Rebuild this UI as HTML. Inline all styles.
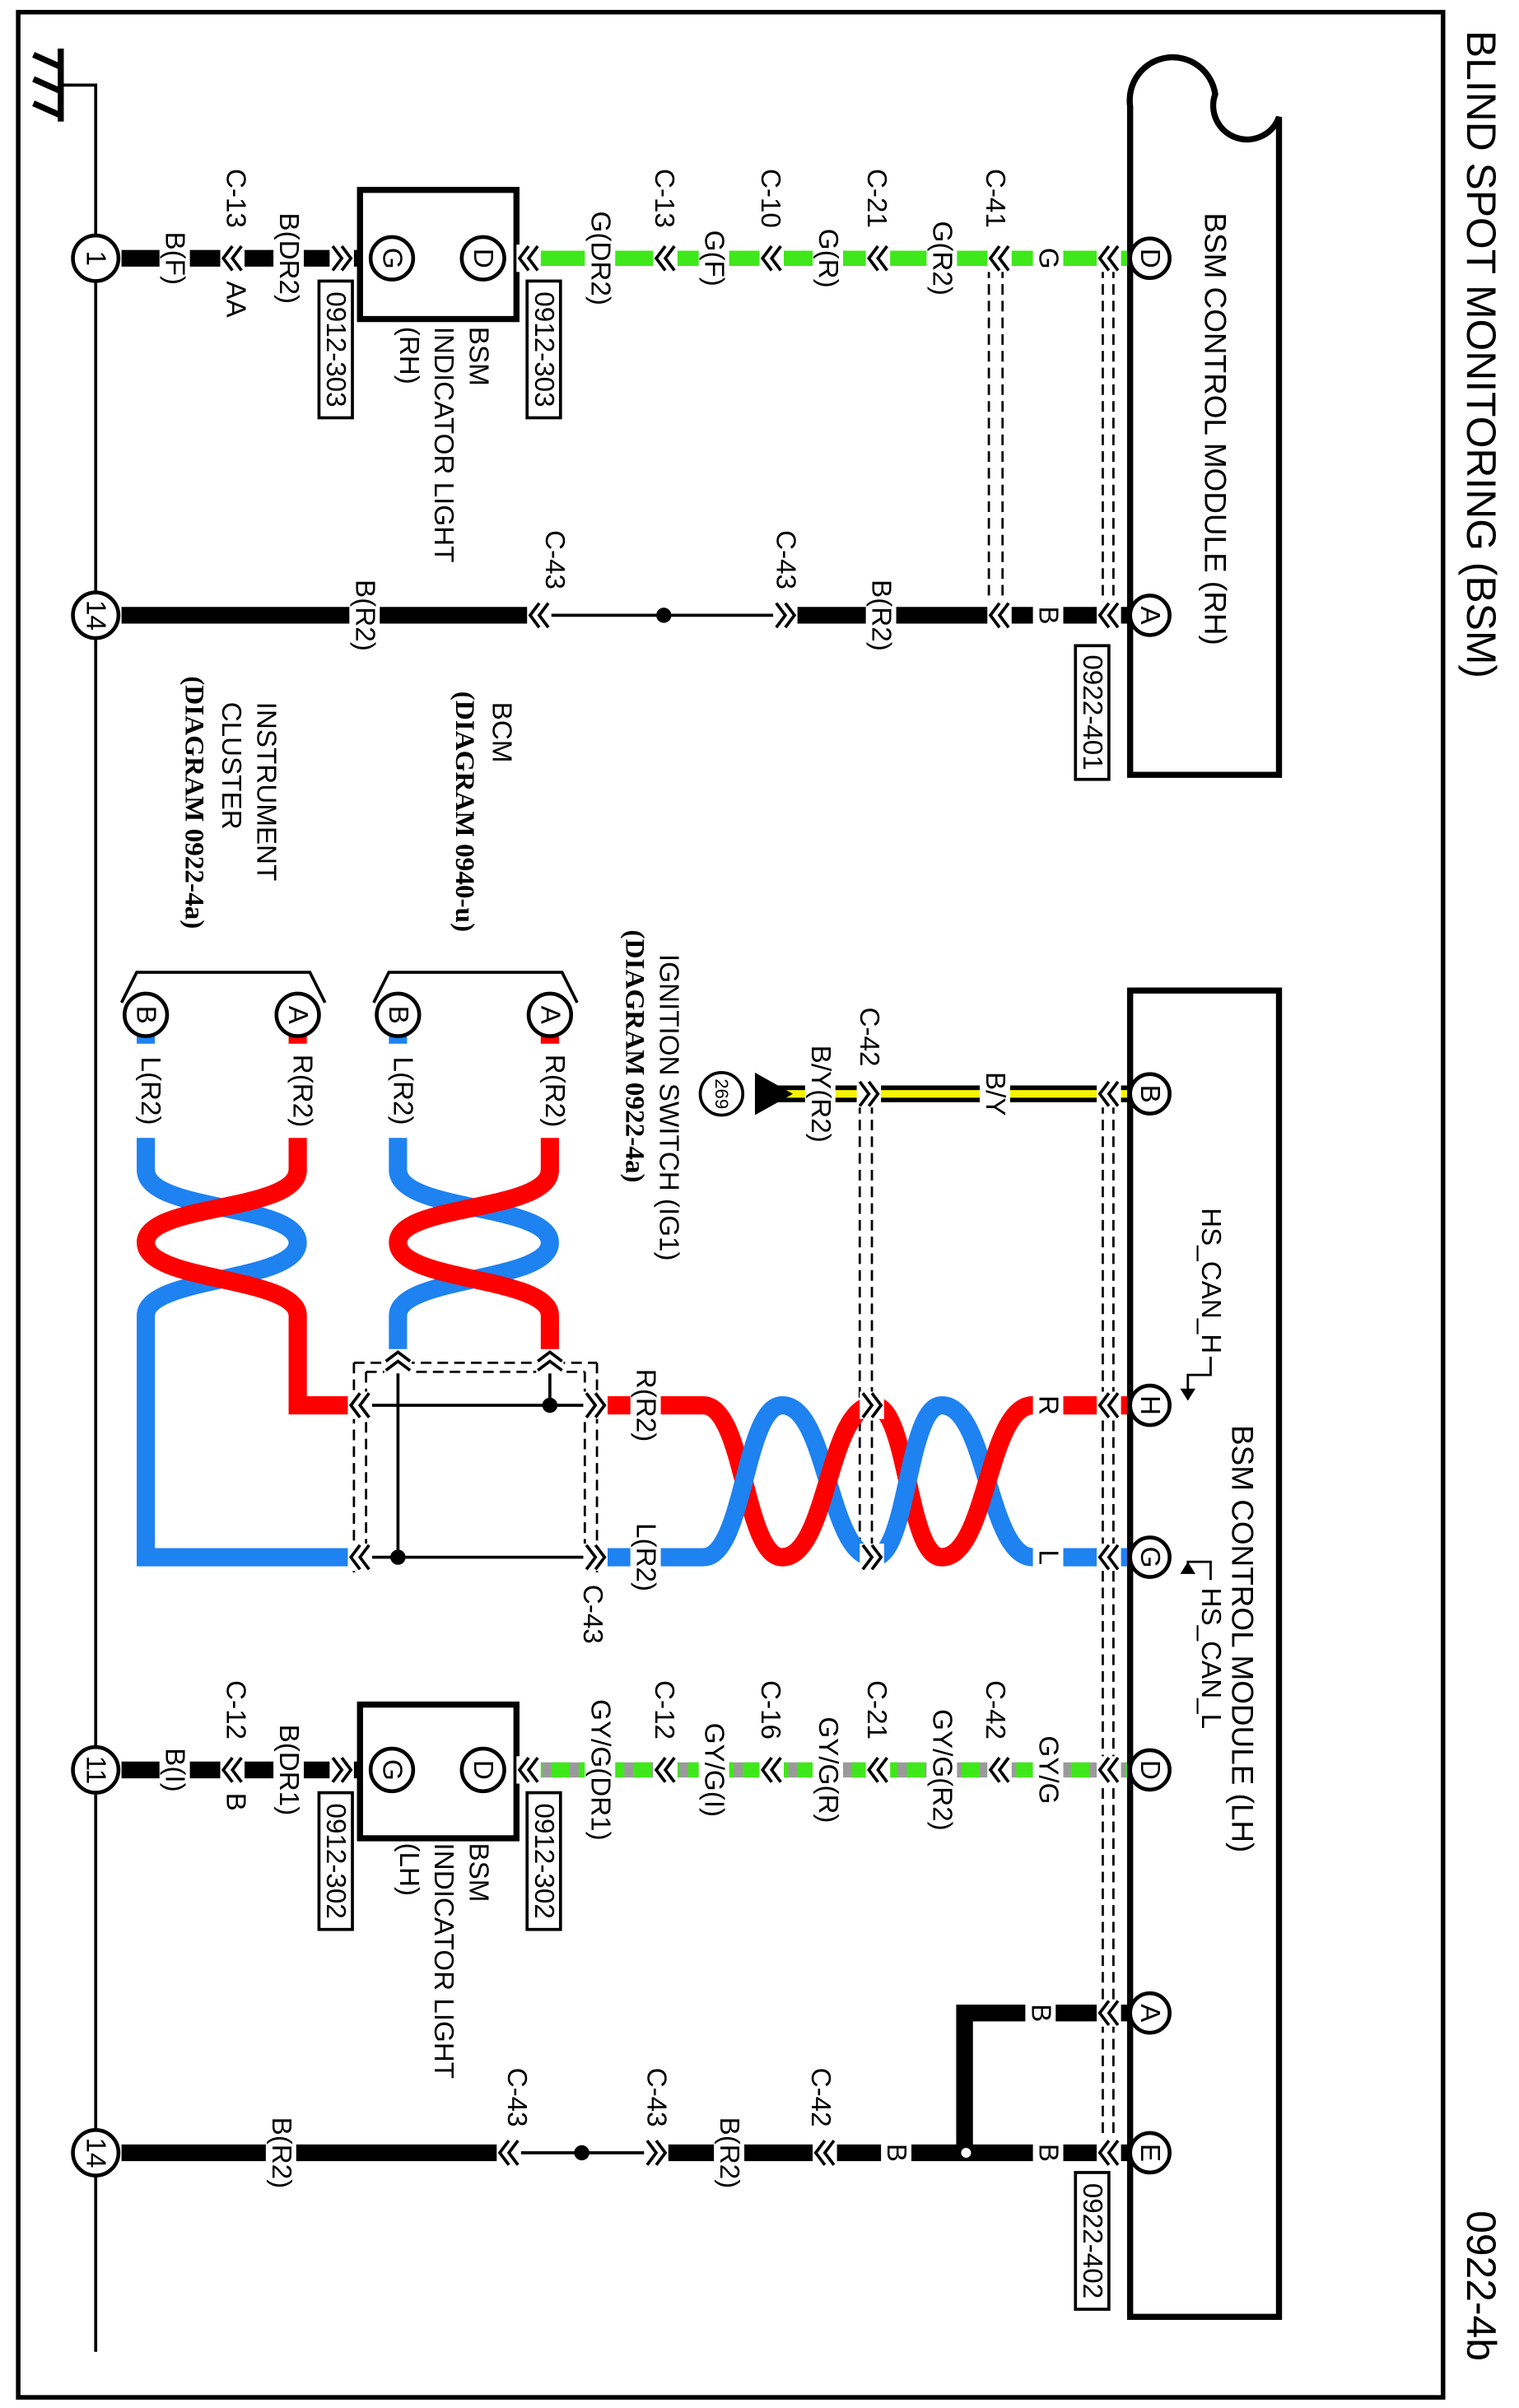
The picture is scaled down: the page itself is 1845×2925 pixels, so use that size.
<!DOCTYPE html>
<html><head><meta charset="utf-8"><style>
html,body{margin:0;padding:0;background:#fff;}
svg{display:block;}
text{font-family:"Liberation Sans",sans-serif;font-size:18px;fill:#000;}
.s{font-family:"Liberation Serif",serif;font-weight:bold;}
.m{font-size:20px;}
</style></head><body>
<svg width="1845" height="2925" viewBox="0 0 1000 1585" preserveAspectRatio="none" xmlns="http://www.w3.org/2000/svg">
<defs>
<g id="ch"><rect x="-5" y="-9" width="16" height="18" fill="#fff"/><polyline points="3,-8 -3,0 3,8" fill="none" stroke="#000" stroke-width="2"/><polyline points="9,-8 3,0 9,8" fill="none" stroke="#000" stroke-width="2"/></g>
<g id="chR"><rect x="-11" y="-9" width="16" height="18" fill="#fff"/><polyline points="-3,-8 3,0 -3,8" fill="none" stroke="#000" stroke-width="2"/><polyline points="-9,-8 -3,0 -9,8" fill="none" stroke="#000" stroke-width="2"/></g>
</defs>
<rect x="0" y="0" width="1000" height="1585" fill="#fff"/>
<rect x="12" y="8" width="938" height="1570" fill="none" stroke="#000" stroke-width="3"/>
<text transform="translate(975,20) rotate(90)" dominant-baseline="central" style="font-size:27px">BLIND SPOT MONITORING (BSM)</text>
<text transform="translate(975,1455) rotate(90)" dominant-baseline="central" style="font-size:27px">0922-4b</text>

<line x1="63" y1="55" x2="63" y2="1548" stroke="#000" stroke-width="2"/>
<line x1="63" y1="56" x2="40" y2="56" stroke="#000" stroke-width="2"/>
<line x1="40" y1="32" x2="40" y2="80" stroke="#000" stroke-width="4"/>
<line x1="22" y1="36" x2="40" y2="44" stroke="#000" stroke-width="4"/>
<line x1="22" y1="52" x2="40" y2="60" stroke="#000" stroke-width="4"/>
<line x1="22" y1="68" x2="40" y2="76" stroke="#000" stroke-width="4"/>

<path d="M744,510 L744,70 A28,28 0 0 1 800,62 A22,22 0 0 0 842,77 L842,510 Z" fill="none" stroke="#000" stroke-width="4"/>
<text class="m" transform="translate(800,140) rotate(90)" dominant-baseline="central">BSM CONTROL MODULE (RH)</text>
<g stroke="#000" stroke-width="1.5" stroke-dasharray="7,4" fill="none">
<line x1="651" y1="176" x2="651" y2="400"/><line x1="660" y1="176" x2="660" y2="400"/>
<line x1="726" y1="176" x2="726" y2="400"/><line x1="733" y1="176" x2="733" y2="400"/>
</g>
<line x1="345" y1="170" x2="742" y2="170" stroke="#3fe81a" stroke-width="10"/>
<line x1="80" y1="170" x2="237" y2="170" stroke="#000" stroke-width="11"/>
<line x1="80" y1="405" x2="355" y2="405" stroke="#000" stroke-width="11"/>
<line x1="355" y1="405" x2="515" y2="405" stroke="#000" stroke-width="2"/>
<line x1="515" y1="405" x2="742" y2="405" stroke="#000" stroke-width="11"/>
<circle cx="437" cy="405" r="5" fill="#000"/>

<rect x="744" y="652" width="98" height="873" fill="none" stroke="#000" stroke-width="4"/>
<text class="m" transform="translate(818,938) rotate(90)" dominant-baseline="central">BSM CONTROL MODULE (LH)</text>
<g stroke="#000" stroke-width="1.5" stroke-dasharray="7,4" fill="none">
<line x1="566" y1="726" x2="566" y2="1020"/><line x1="574" y1="726" x2="574" y2="1020"/>
<line x1="726" y1="726" x2="726" y2="1412"/><line x1="733" y1="726" x2="733" y2="1412"/>
</g>
<line x1="512" y1="720" x2="742" y2="720" stroke="#000" stroke-width="11"/>
<line x1="512" y1="720" x2="742" y2="720" stroke="#f5f500" stroke-width="5"/>
<polygon points="497,706 497,734 522,720" fill="#000"/>
<circle cx="475" cy="720" r="14" fill="#fff" stroke="#000" stroke-width="2"/>
<text transform="translate(475,720) rotate(90)" dominant-baseline="central" text-anchor="middle" style="font-size:12px">269</text>
<text transform="translate(440,628) rotate(90)" dominant-baseline="central">IGNITION SWITCH (IG1)</text>
<text class="s" transform="translate(418,612) rotate(90)" dominant-baseline="central">(DIAGRAM 0922-4a)</text>

<path d="M742,925 L680,925 C650,925 650,1025 620,1025 C597,1025 598,925 575,925 C545,925 545,1025 515,1025 C490,1025 490,925 463,925 L392,925" fill="none" stroke="#ff0000" stroke-width="12"/>
<path d="M742,1025 L680,1025 C650,1025 650,925 620,925 C597,925 598,1025 575,1025 C545,1025 545,925 515,925 C490,925 490,1025 463,1025 L392,1025" fill="none" stroke="#1e82f0" stroke-width="12"/>
<path d="M742,925 L680,925 C650,925 650,1025 620,1025" fill="none" stroke="#ff0000" stroke-width="12"/>
<path d="M575,925 C545,925 545,1025 515,1025" fill="none" stroke="#ff0000" stroke-width="12"/>
<g stroke="#000" stroke-width="1.5" stroke-dasharray="7,4" fill="none">
<line x1="233" y1="897" x2="233" y2="1035"/><line x1="241" y1="903" x2="241" y2="1035"/>
<line x1="385" y1="903" x2="385" y2="1035"/><line x1="393" y1="897" x2="393" y2="1035"/>
<line x1="233" y1="897" x2="393" y2="897"/><line x1="241" y1="903" x2="385" y2="903"/>
</g>
<line x1="237" y1="925" x2="390" y2="925" stroke="#000" stroke-width="2"/>
<line x1="237" y1="1025" x2="390" y2="1025" stroke="#000" stroke-width="2"/>
<line x1="362" y1="895" x2="362" y2="925" stroke="#000" stroke-width="2"/>
<line x1="262" y1="895" x2="262" y2="1025" stroke="#000" stroke-width="2"/>
<circle cx="362" cy="925" r="5" fill="#000"/><circle cx="262" cy="1025" r="5" fill="#000"/>
<path d="M262,682 L262,770 C262,798 362,792 362,818 C362,844 262,840 262,866 L262,892" fill="none" stroke="#1e82f0" stroke-width="12"/>
<path d="M362,682 L362,770 C362,798 262,792 262,818 C262,844 362,840 362,866 L362,892" fill="none" stroke="#ff0000" stroke-width="12"/>
<path d="M362,770 C362,798 262,792 262,818" fill="none" stroke="#ff0000" stroke-width="12"/>
<path d="M96,682 L96,770 C96,798 196,792 196,818 C196,844 96,840 96,866 L96,1025 L237,1025" fill="none" stroke="#1e82f0" stroke-width="12"/>
<path d="M196,682 L196,770 C196,798 96,792 96,818 C96,844 196,840 196,866 L196,925 L237,925" fill="none" stroke="#ff0000" stroke-width="12"/>
<path d="M196,770 C196,798 96,792 96,818" fill="none" stroke="#ff0000" stroke-width="12"/>
<g transform="translate(362,893) rotate(90)"><use href="#ch"/></g>
<g transform="translate(262,893) rotate(90)"><use href="#ch"/></g>
<polyline points="246,660 256,640 370,640 380,660" fill="none" stroke="#000" stroke-width="2"/>
<polyline points="80,660 90,640 204,640 214,660" fill="none" stroke="#000" stroke-width="2"/>
<text transform="translate(330,462) rotate(90)" dominant-baseline="central">BCM</text>
<text class="s" transform="translate(306,455) rotate(90)" dominant-baseline="central">(DIAGRAM 0940-u)</text>
<text transform="translate(175,462) rotate(90)" dominant-baseline="central">INSTRUMENT</text>
<text transform="translate(152,462) rotate(90)" dominant-baseline="central">CLUSTER</text>
<text class="s" transform="translate(128,445) rotate(90)" dominant-baseline="central">(DIAGRAM 0922-4a)</text>

<text transform="translate(797,795) rotate(90)" dominant-baseline="central">HS_CAN_H</text>
<polyline points="797,893 797,905 782,905 782,918" fill="none" stroke="#000" stroke-width="1.5"/>
<polygon points="777,914 787,914 782,922" fill="#000"/>
<text transform="translate(797,1045) rotate(90)" dominant-baseline="central">HS_CAN_L</text>
<polyline points="797,1040 797,1028 782,1028 782,1035" fill="none" stroke="#000" stroke-width="1.5"/>
<polygon points="777,1036 787,1036 782,1028" fill="#000"/>

<line x1="345" y1="1165" x2="742" y2="1165" stroke="#9a9a9a" stroke-width="10"/>
<line x1="345" y1="1165" x2="742" y2="1165" stroke="#3fe81a" stroke-width="10" stroke-dasharray="12,6"/>
<line x1="80" y1="1165" x2="237" y2="1165" stroke="#000" stroke-width="11"/>
<polyline points="742,1325 635,1325 635,1417" fill="none" stroke="#000" stroke-width="11"/>
<line x1="80" y1="1417" x2="335" y2="1417" stroke="#000" stroke-width="11"/>
<line x1="335" y1="1417" x2="430" y2="1417" stroke="#000" stroke-width="2"/>
<line x1="430" y1="1417" x2="742" y2="1417" stroke="#000" stroke-width="11"/>
<circle cx="383" cy="1417" r="5" fill="#000"/>
<circle cx="636" cy="1417" r="4" fill="#fff" stroke="#000" stroke-width="1.5"/>

<rect x="237" y="125" width="103" height="85" fill="#fff" stroke="#000" stroke-width="4"/>
<rect x="237" y="1122" width="103" height="88" fill="#fff" stroke="#000" stroke-width="4"/>

<use href="#ch" x="655" y="170"/><use href="#ch" x="575" y="170"/><use href="#ch" x="505" y="170"/><use href="#ch" x="435" y="170"/><use href="#ch" x="345" y="170"/><use href="#ch" x="727" y="170"/>
<use href="#ch" x="150" y="170"/><use href="#chR" x="228" y="170"/>
<use href="#ch" x="655" y="405"/><use href="#chR" x="520" y="405"/><use href="#ch" x="352" y="405"/><use href="#ch" x="727" y="405"/>
<use href="#ch" x="727" y="720"/><use href="#chR" x="575" y="720"/>
<use href="#ch" x="727" y="925"/><use href="#ch" x="727" y="1025"/>
<use href="#chR" x="577" y="925"/><use href="#chR" x="577" y="1025"/>
<use href="#chR" x="395" y="925"/><use href="#chR" x="395" y="1025"/>
<use href="#ch" x="234" y="925"/><use href="#ch" x="234" y="1025"/>
<use href="#ch" x="655" y="1165"/><use href="#ch" x="575" y="1165"/><use href="#ch" x="505" y="1165"/><use href="#ch" x="435" y="1165"/><use href="#ch" x="345" y="1165"/><use href="#ch" x="727" y="1165"/>
<use href="#ch" x="150" y="1165"/><use href="#chR" x="228" y="1165"/>
<use href="#ch" x="727" y="1325"/><use href="#ch" x="727" y="1417"/>
<use href="#ch" x="540" y="1417"/><use href="#chR" x="435" y="1417"/><use href="#ch" x="332" y="1417"/>

<g fill="#fff" stroke="#000" stroke-width="2.5">
<circle cx="757" cy="170" r="13"/><circle cx="757" cy="405" r="13"/>
<circle cx="757" cy="720" r="13"/><circle cx="757" cy="925" r="13"/><circle cx="757" cy="1025" r="13"/><circle cx="757" cy="1165" r="13"/><circle cx="757" cy="1325" r="13"/><circle cx="757" cy="1417" r="13"/>
<circle cx="258" cy="170" r="14"/><circle cx="318" cy="170" r="14"/>
<circle cx="258" cy="1165" r="14"/><circle cx="318" cy="1165" r="14"/>
<circle cx="362" cy="668" r="14"/><circle cx="262" cy="668" r="14"/><circle cx="196" cy="668" r="14"/><circle cx="96" cy="668" r="14"/>
<circle cx="63" cy="170" r="15"/><circle cx="63" cy="405" r="15"/><circle cx="63" cy="1165" r="15"/><circle cx="63" cy="1417" r="15"/>
</g>
<g text-anchor="middle" dominant-baseline="central">
<text transform="translate(757,170) rotate(90)">D</text><text transform="translate(757,405) rotate(90)">A</text>
<text transform="translate(757,720) rotate(90)">B</text><text transform="translate(757,925) rotate(90)">H</text><text transform="translate(757,1025) rotate(90)">G</text><text transform="translate(757,1165) rotate(90)">D</text><text transform="translate(757,1325) rotate(90)">A</text><text transform="translate(757,1417) rotate(90)">E</text>
<text transform="translate(258,170) rotate(90)">G</text><text transform="translate(318,170) rotate(90)">D</text>
<text transform="translate(258,1165) rotate(90)">G</text><text transform="translate(318,1165) rotate(90)">D</text>
<text transform="translate(362,668) rotate(90)">A</text><text transform="translate(262,668) rotate(90)">B</text><text transform="translate(196,668) rotate(90)">A</text><text transform="translate(96,668) rotate(90)">B</text>
<text transform="translate(63,170) rotate(90)">1</text><text transform="translate(63,405) rotate(90)">14</text><text transform="translate(63,1165) rotate(90)">11</text><text transform="translate(63,1417) rotate(90)">14</text>
</g>

<g fill="#fff">
<rect x="680" y="159" width="20" height="22"/><rect x="610" y="143" width="20" height="54"/><rect x="535" y="148" width="20" height="44"/><rect x="460" y="149" width="20" height="42"/><rect x="385" y="136" width="20" height="68"/>
<rect x="180" y="136" width="20" height="68"/><rect x="105" y="149" width="20" height="42"/>
<rect x="680" y="396" width="20" height="18"/><rect x="570" y="378" width="20" height="54"/><rect x="230" y="378" width="20" height="54"/>
<rect x="645" y="700" width="20" height="40"/><rect x="530" y="686" width="20" height="68"/>
<rect x="680" y="915" width="20" height="20"/><rect x="680" y="1015" width="20" height="20"/>
<rect x="415" y="898" width="20" height="54"/><rect x="415" y="998" width="20" height="54"/>
<rect x="355" y="687" width="20" height="62"/><rect x="255" y="687" width="20" height="62"/><rect x="189" y="687" width="20" height="62"/><rect x="89" y="687" width="20" height="62"/>
<rect x="680" y="1141" width="20" height="48"/><rect x="610" y="1122" width="20" height="86"/><rect x="535" y="1127" width="20" height="76"/><rect x="460" y="1132" width="20" height="66"/><rect x="385" y="1118" width="20" height="94"/>
<rect x="180" y="1131" width="20" height="68"/><rect x="105" y="1149" width="20" height="32"/>
<rect x="675" y="1315" width="20" height="20"/><rect x="680" y="1407" width="20" height="20"/><rect x="580" y="1407" width="20" height="20"/><rect x="470" y="1390" width="20" height="54"/><rect x="175" y="1390" width="20" height="54"/>
</g>
<g text-anchor="middle" dominant-baseline="central">
<text transform="translate(690,170) rotate(90)">G</text><text transform="translate(620,170) rotate(90)">G(R2)</text><text transform="translate(545,170) rotate(90)">G(R)</text><text transform="translate(470,170) rotate(90)">G(F)</text><text transform="translate(395,170) rotate(90)">G(DR2)</text>
<text transform="translate(190,170) rotate(90)">B(DR2)</text><text transform="translate(115,170) rotate(90)">B(F)</text>
<text transform="translate(690,405) rotate(90)">B</text><text transform="translate(580,405) rotate(90)">B(R2)</text><text transform="translate(240,405) rotate(90)">B(R2)</text>
<text transform="translate(655,720) rotate(90)">B/Y</text><text transform="translate(540,720) rotate(90)">B/Y(R2)</text>
<text transform="translate(690,925) rotate(90)">R</text><text transform="translate(690,1025) rotate(90)">L</text>
<text transform="translate(425,925) rotate(90)">R(R2)</text><text transform="translate(425,1025) rotate(90)">L(R2)</text>
<text transform="translate(365,718) rotate(90)">R(R2)</text><text transform="translate(265,718) rotate(90)">L(R2)</text><text transform="translate(199,718) rotate(90)">R(R2)</text><text transform="translate(99,718) rotate(90)">L(R2)</text>
<text transform="translate(690,1165) rotate(90)">GY/G</text><text transform="translate(620,1165) rotate(90)">GY/G(R2)</text><text transform="translate(545,1165) rotate(90)">GY/G(R)</text><text transform="translate(470,1165) rotate(90)">GY/G(I)</text><text transform="translate(395,1165) rotate(90)">GY/G(DR1)</text>
<text transform="translate(190,1165) rotate(90)">B(DR1)</text><text transform="translate(115,1165) rotate(90)">B(I)</text>
<text transform="translate(685,1325) rotate(90)">B</text><text transform="translate(690,1417) rotate(90)">B</text><text transform="translate(590,1417) rotate(90)">B</text><text transform="translate(480,1417) rotate(90)">B(R2)</text><text transform="translate(185,1417) rotate(90)">B(R2)</text>
</g>

<g dominant-baseline="central" text-anchor="end">
<text transform="translate(655,150) rotate(90)">C-41</text><text transform="translate(577,150) rotate(90)">C-21</text><text transform="translate(507,150) rotate(90)">C-10</text><text transform="translate(437,150) rotate(90)">C-13</text><text transform="translate(155,150) rotate(90)">C-13</text>
<text transform="translate(517,388) rotate(90)">C-43</text><text transform="translate(365,388) rotate(90)">C-43</text>
<text transform="translate(572,702) rotate(90)">C-42</text>
<text transform="translate(655,1145) rotate(90)">C-42</text><text transform="translate(577,1145) rotate(90)">C-21</text><text transform="translate(507,1145) rotate(90)">C-16</text><text transform="translate(437,1145) rotate(90)">C-12</text><text transform="translate(155,1145) rotate(90)">C-12</text>
<text transform="translate(540,1400) rotate(90)">C-42</text><text transform="translate(432,1400) rotate(90)">C-43</text><text transform="translate(340,1400) rotate(90)">C-43</text>
</g>
<g dominant-baseline="central">
<text transform="translate(155,185) rotate(90)">AA</text>
<text transform="translate(155,1180) rotate(90)">B</text>
<text transform="translate(390,1043) rotate(90)">C-43</text>
</g>

<g fill="#fff" stroke="#000" stroke-width="2">
<rect x="708" y="425" width="22" height="88"/><rect x="708" y="1430" width="22" height="90"/>
<rect x="347" y="185" width="22" height="90"/><rect x="210" y="185" width="22" height="90"/>
<rect x="347" y="1180" width="22" height="90"/><rect x="210" y="1180" width="22" height="90"/>
</g>
<g dominant-baseline="central" text-anchor="middle">
<text transform="translate(719,469) rotate(90)">0922-401</text><text transform="translate(719,1475) rotate(90)">0922-402</text>
<text transform="translate(358,230) rotate(90)">0912-303</text><text transform="translate(221,230) rotate(90)">0912-303</text>
<text transform="translate(358,1225) rotate(90)">0912-302</text><text transform="translate(221,1225) rotate(90)">0912-302</text>
</g>
<g dominant-baseline="central">
<text transform="translate(315,215) rotate(90)">BSM</text><text transform="translate(292,215) rotate(90)">INDICATOR LIGHT</text><text transform="translate(269,215) rotate(90)">(RH)</text>
<text transform="translate(315,1213) rotate(90)">BSM</text><text transform="translate(292,1213) rotate(90)">INDICATOR LIGHT</text><text transform="translate(269,1213) rotate(90)">(LH)</text>
</g>
</svg>
</body></html>
